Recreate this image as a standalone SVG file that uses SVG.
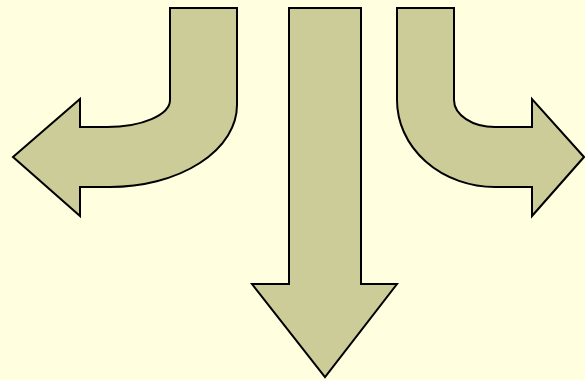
<svg xmlns="http://www.w3.org/2000/svg" width="585" height="380" viewBox="0 0 585 380">
<style>
.a{fill:#cccc99;stroke:#000;stroke-width:2;stroke-linejoin:miter}
</style>
<rect width="585" height="380" fill="#ffffe0"/>
<g id="left-arrow">
<path class="a" d="M170,8 H237 V105 A127,82 0 0 1 110,187 H80 V216 L13,157 L80,99 V127 H107 A63,27 0 0 0 170,100 Z"/>
</g>
<g id="down-arrow">
<path class="a" d="M289,8 H361 V284 H397 L325,377 L252,284 H289 Z"/>
</g>
<g id="right-arrow">
<path class="a" d="M397,8 H454 V100 A41,27 0 0 0 495,127 H532 V99 L584,157 L532,216 V187 H495 A98,87 0 0 1 397,100 Z"/>
</g>
</svg>
